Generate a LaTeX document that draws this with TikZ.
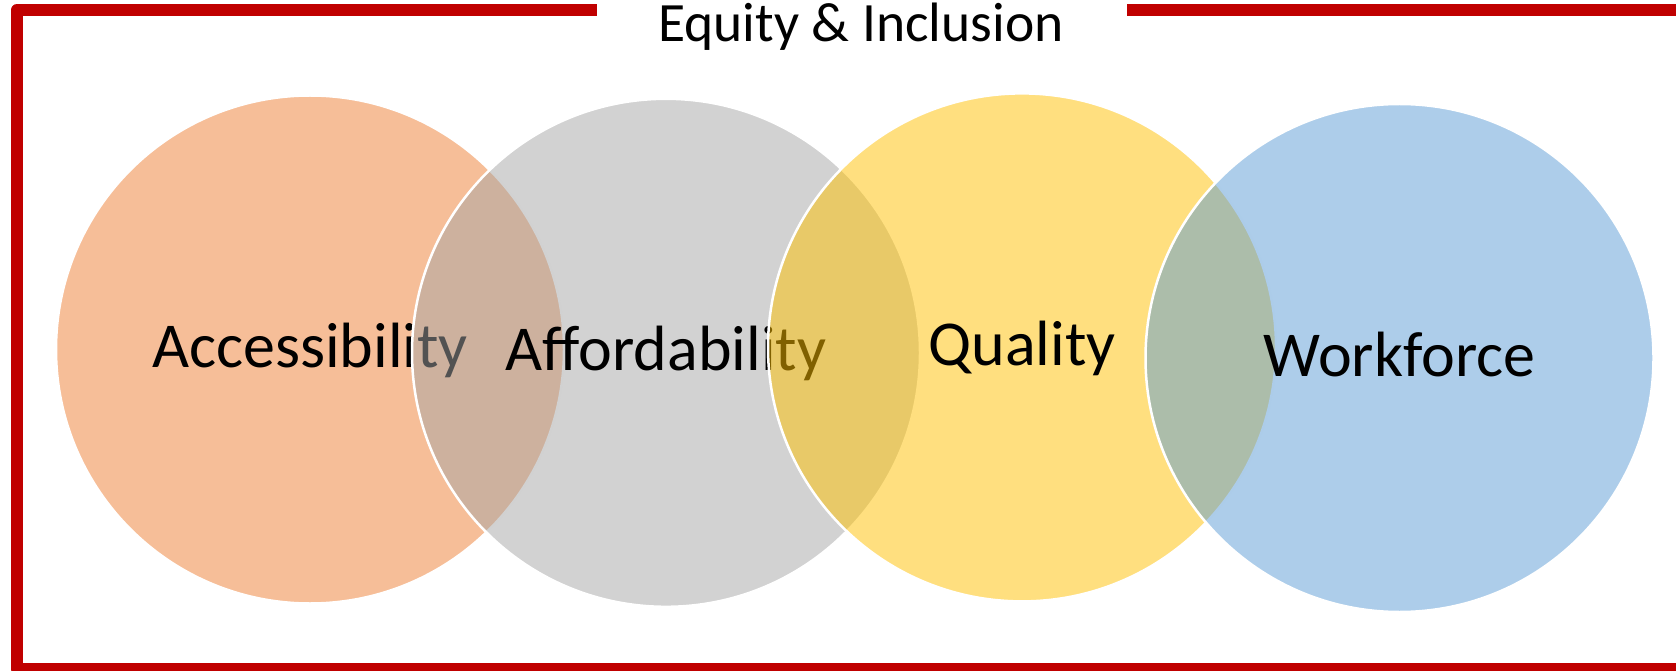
\documentclass[tikz,border=0pt]{standalone}
\usepackage{fontspec}
\setmainfont{Carlito}

\definecolor{framered}{HTML}{C00000}
\definecolor{accorange}{HTML}{ED7D31}
\definecolor{affgray}{HTML}{A5A5A5}
\definecolor{qualgold}{HTML}{FFC000}
\definecolor{workblue}{HTML}{5B9BD5}

\tikzset{
  venn/.style={circle,minimum size=508pt,inner sep=0pt,draw=white,line width=2.5pt,
    fill opacity=0.5,text opacity=1,font=\fontsize{64}{76}\selectfont,
    text height=50pt,text depth=14pt},
  border/.style={draw=framered,line width=12pt,line join=round}
}

\begin{document}
\begin{tikzpicture}[x=1pt,y=-1pt]
  \useasboundingbox (0,0) rectangle (1676,671);
  \clip (0,0) rectangle (1676,671);

  % frame with a gap for the title
  \coordinate (tl) at (16.5,10.5);
  \coordinate (br) at (1700,669);
  \coordinate (gapL) at (597,10.5);
  \coordinate (gapR) at (1127,10.5);
  \draw[border] (gapR) -- (br |- tl) -- (br) -- (tl |- br) -- (tl) -- (gapL);

  \node[font=\fontsize{55.5}{66}\selectfont,anchor=base,inner sep=0pt]
    (title) at (861,42) {Equity \& Inclusion};

  \foreach \name/\x/\y/\col/\txt in
    {acc/310/349.5/accorange/Accessibility,
     aff/666/352.8/affgray/Affordability,
     qual/1022/347.4/qualgold/Quality,
     work/1399.5/358/workblue/Workforce}
  { \node[venn,fill=\col] (\name) at (\x,\y) {\txt}; }
\end{tikzpicture}
\end{document}
